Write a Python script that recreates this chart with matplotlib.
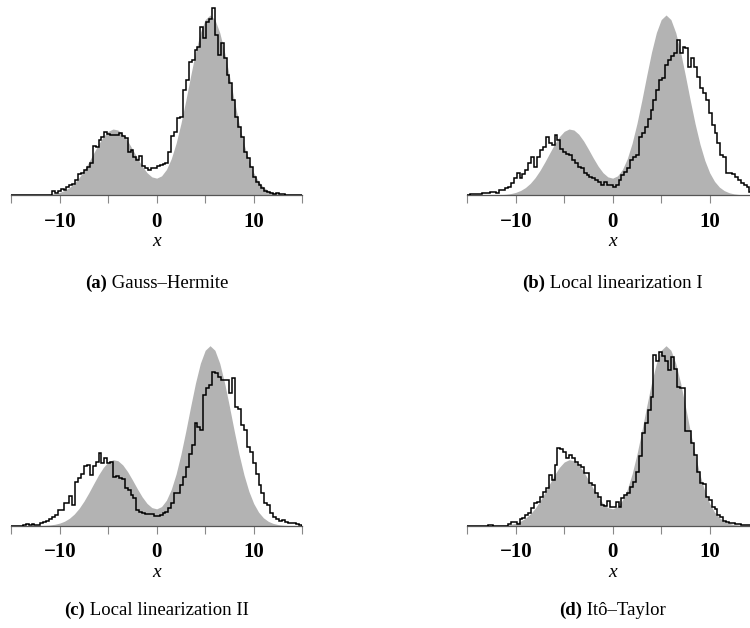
import numpy as np
import matplotlib
matplotlib.use("Agg")
import matplotlib.pyplot as plt

# Reference density sampled on a 0.5 grid over [-15, 15]
grid_x = np.arange(-15, 15.01, 0.5)
density = [
    0.0000, 0.0000, 0.0000, 0.0001, 0.0002, 0.0004, 0.0009, 0.0020, 0.0041, 0.0079,
    0.0144, 0.0250, 0.0412, 0.0646, 0.0962, 0.1360, 0.1826, 0.2327, 0.2817, 0.3239,
    0.3536, 0.3666, 0.3610, 0.3377, 0.3003, 0.2542, 0.2054, 0.1603, 0.1239, 0.1006,
    0.0936, 0.1063, 0.1414, 0.2015, 0.2874, 0.3973, 0.5256, 0.6621, 0.7929, 0.9019,
    0.9745, 1.0000, 0.9745, 0.9018, 0.7926, 0.6615, 0.5243, 0.3946, 0.2821, 0.1915,
    0.1234, 0.0756, 0.0439, 0.0243, 0.0127, 0.0063, 0.0030, 0.0013, 0.0006, 0.0002,
    0.0001,
]

# Histogram of samples, 100 bins of width 0.3 on [-15, 15]
bin_edges = np.linspace(-15, 15, 101)

hist_gauss_hermite = [
    0, 0, 0, 0, 0, 0, 0, 0, 0, 0,
    0, 0, 0, 0, 0.024, 0.013, 0.022, 0.033, 0.030, 0.044,
    0.056, 0.063, 0.085, 0.115, 0.122, 0.140, 0.155, 0.180, 0.270, 0.265,
    0.305, 0.320, 0.350, 0.340, 0.335, 0.336, 0.333, 0.343, 0.330, 0.318,
    0.240, 0.250, 0.213, 0.195, 0.215, 0.160, 0.150, 0.140, 0.148, 0.152,
    0.160, 0.167, 0.172, 0.180, 0.240, 0.330, 0.352, 0.426, 0.435, 0.583,
    0.640, 0.740, 0.750, 0.805, 0.824, 0.935, 0.870, 0.963, 0.980, 1.037,
    0.889, 0.778, 0.843, 0.760, 0.667, 0.620, 0.528, 0.435, 0.380, 0.324,
    0.240, 0.204, 0.157, 0.100, 0.074, 0.056, 0.037, 0.024, 0.018, 0.012,
    0.008, 0.012, 0.005, 0.003, 0, 0, 0, 0, 0, 0,
]

hist_local_lin_1 = [
    0.002, 0.003, 0.006, 0.006, 0.008, 0.010, 0.013, 0.012, 0.018, 0.016,
    0.013, 0.028, 0.030, 0.040, 0.046, 0.069, 0.093, 0.120, 0.093, 0.117,
    0.139, 0.176, 0.213, 0.157, 0.213, 0.250, 0.269, 0.324, 0.290, 0.278,
    0.333, 0.305, 0.255, 0.240, 0.230, 0.222, 0.194, 0.176, 0.157, 0.148,
    0.120, 0.111, 0.100, 0.093, 0.085, 0.074, 0.056, 0.074, 0.056, 0.056,
    0.046, 0.056, 0.083, 0.111, 0.130, 0.148, 0.194, 0.210, 0.222, 0.324,
    0.343, 0.380, 0.420, 0.472, 0.528, 0.583, 0.640, 0.650, 0.722, 0.750,
    0.770, 0.787, 0.861, 0.787, 0.824, 0.815, 0.713, 0.760, 0.713, 0.657,
    0.593, 0.565, 0.528, 0.454, 0.389, 0.343, 0.287, 0.222, 0.213, 0.124,
    0.124, 0.115, 0.100, 0.085, 0.069, 0.056, 0.046, 0.018, 0.012, 0.008,
]

hist_local_lin_2 = [
    0, 0, 0, 0, 0.003, 0.009, 0.005, 0.007, 0.004, 0.004,
    0.017, 0.018, 0.028, 0.040, 0.050, 0.060, 0.087, 0.087, 0.124, 0.128,
    0.167, 0.115, 0.244, 0.263, 0.290, 0.331, 0.339, 0.281, 0.331, 0.355,
    0.405, 0.350, 0.378, 0.350, 0.355, 0.272, 0.275, 0.263, 0.258, 0.207,
    0.200, 0.170, 0.152, 0.087, 0.074, 0.072, 0.065, 0.065, 0.063, 0.054,
    0.055, 0.059, 0.069, 0.078, 0.096, 0.124, 0.180, 0.183, 0.226, 0.272,
    0.328, 0.400, 0.448, 0.568, 0.550, 0.530, 0.726, 0.763, 0.780, 0.856,
    0.846, 0.828, 0.809, 0.809, 0.812, 0.735, 0.818, 0.657, 0.646, 0.559,
    0.531, 0.439, 0.410, 0.346, 0.290, 0.226, 0.180, 0.124, 0.115, 0.072,
    0.050, 0.040, 0.026, 0.031, 0.022, 0.013, 0.013, 0.015, 0.008, 0.003,
]

hist_ito_taylor = [
    0, 0, 0, 0, 0, 0, 0, 0.003, 0.002, 0,
    0, 0, 0, 0, 0.010, 0.019, 0.022, 0.009, 0.035, 0.041,
    0.059, 0.072, 0.096, 0.124, 0.133, 0.161, 0.189, 0.207, 0.281, 0.254,
    0.337, 0.430, 0.424, 0.411, 0.374, 0.393, 0.374, 0.356, 0.337, 0.328,
    0.291, 0.291, 0.235, 0.226, 0.180, 0.161, 0.115, 0.109, 0.139, 0.106,
    0.106, 0.133, 0.106, 0.156, 0.170, 0.180, 0.217, 0.244, 0.300, 0.390,
    0.513, 0.569, 0.643, 0.717, 0.950, 0.913, 0.963, 0.944, 0.917, 0.865,
    0.935, 0.870, 0.772, 0.763, 0.763, 0.528, 0.528, 0.457, 0.393, 0.300,
    0.235, 0.232, 0.161, 0.143, 0.106, 0.093, 0.059, 0.046, 0.028, 0.022,
    0.013, 0.013, 0.007, 0.007, 0.003, 0.003, 0.002, 0.002, 0.001, 0,
]

panel_tags = ["(a)", "(b)", "(c)", "(d)"]
panel_names = ["Gauss–Hermite", "Local linearization I",
               "Local linearization II", "Itô–Taylor"]
histograms = [hist_gauss_hermite, hist_local_lin_1,
              hist_local_lin_2, hist_ito_taylor]

W, H = 750, 628
fig = plt.figure(figsize=(W / 100, H / 100), dpi=100)
SERIF = ["Liberation Serif", "DejaVu Serif"]

# axes boxes in pixels: (left, baseline_y)
boxes = [(11.2, 195.0), (467.2, 195.0), (11.2, 525.7), (467.2, 525.7)]
ax_w_px = 291.0
ymax = 1.05
ax_h_px = 180.0 * ymax

for (lpx, base), hist in zip(boxes, histograms):
    ax = fig.add_axes([lpx / W, (H - base) / H, ax_w_px / W, ax_h_px / H])
    ax.fill_between(grid_x, density, 0, color="#b3b3b3", lw=0, zorder=1)
    ax.stairs(hist, bin_edges, baseline=0, color="black", lw=1.1, zorder=3)
    ax.set_xlim(-15, 15)
    ax.set_ylim(0, ymax)
    for s in ("left", "right", "top"):
        ax.spines[s].set_visible(False)
    ax.spines["bottom"].set_color("#555555")
    ax.spines["bottom"].set_linewidth(0.9)
    ax.set_yticks([])
    ax.set_xticks([-15, -10, -5, 0, 5, 10, 15])
    ax.set_xticklabels(["", "\u221210", "", "0", "", "10", ""])
    ax.tick_params(axis="x", direction="out", length=5.5, width=0.8,
                   color="#888888", pad=6.5, labelsize=15)
    for lab in ax.get_xticklabels():
        lab.set_fontfamily(SERIF)
        lab.set_fontweight("bold")
    ax.set_xlabel("x", fontfamily=SERIF, fontstyle="italic", fontsize=14,
                  labelpad=1)
    ax.patch.set_visible(False)

# captions: bold tag followed by regular name, centred under each axis
fig.canvas.draw()
renderer = fig.canvas.get_renderer()
cap_fs = 13.5
cap_y = [283.0, 283.0, 610.7, 610.7]
for (lpx, base), tag, name, cy in zip(boxes, panel_tags, panel_names, cap_y):
    t1 = fig.text(0, 0, tag, fontfamily=SERIF, fontweight="bold",
                  fontsize=cap_fs, va="center", ha="left")
    t2 = fig.text(0, 0, " " + name, fontfamily=SERIF, fontsize=cap_fs,
                  va="center", ha="left")
    w1 = t1.get_window_extent(renderer).width
    w2 = t2.get_window_extent(renderer).width
    cx = lpx + ax_w_px / 2
    x0 = cx - (w1 + w2) / 2
    yf = (H - cy) / H
    t1.set_position((x0 / W, yf))
    t2.set_position(((x0 + w1) / W, yf))

fig.savefig("out.png", dpi=100)
